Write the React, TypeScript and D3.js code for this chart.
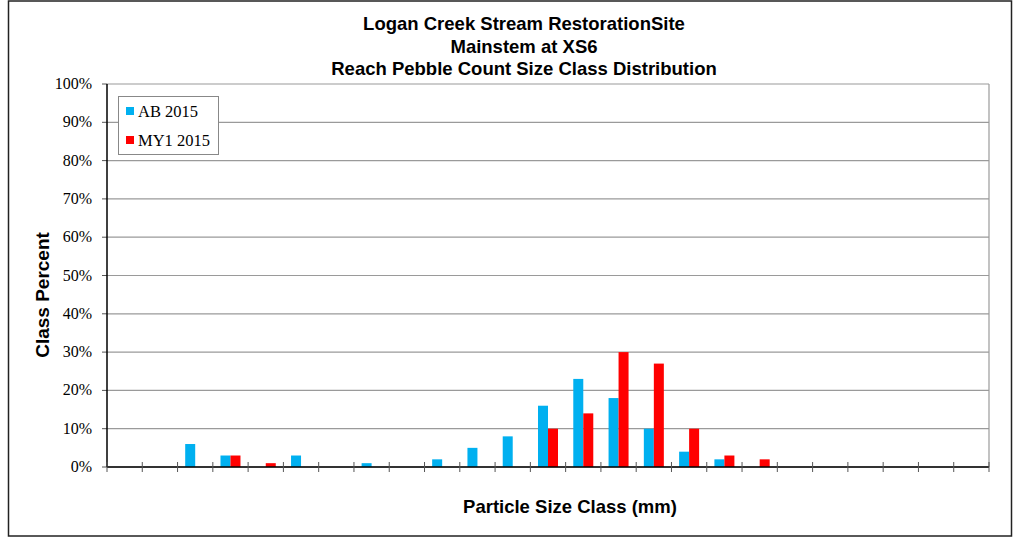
import React from "react";
import * as d3 from "d3";

const categories: string[] = Array.from({ length: 25 }, (_, i) => `C${i + 1}`);
const ab2015: (number | null)[] = [0, 0, 6, 3, 0, 3, 0, 1, 0, 2, 5, 8, 16, 23, 18, 10, 4, 2, 0, 0, 0, 0, 0, 0, 0];
const my12015: (number | null)[] = [0, 0, 0, 3, 1, 0, 0, 0, 0, 0, 0, 0, 10, 14, 30, 27, 10, 3, 2, 0, 0, 0, 0, 0, 0];
const yTicks: number[] = [0, 10, 20, 30, 40, 50, 60, 70, 80, 90, 100];
const seriesNames = ["AB 2015", "MY1 2015"];
const seriesColors = ["#00B0F0", "#FF0000"];
const titleLines = ["Logan Creek Stream RestorationSite", "Mainstem at XS6", "Reach Pebble Count Size Class Distribution"];

export default function App() {
  const W = 1014, H = 540;
  const left = 107, right = 989, top = 84, bottom = 467;
  const x = d3.scaleBand<string>().domain(categories).range([left, right]).padding(0);
  const y = d3.scaleLinear().domain([0, 100]).range([bottom, top]);
  const bw = 10;
  const series = [ab2015, my12015];
  const arial = "'Liberation Sans', Arial, sans-serif";
  const serif = "'Liberation Serif', 'Times New Roman', serif";
  return (
    <svg width={W} height={H} style={{ position: "absolute", left: 0, top: 0 }}>
      <rect x={0} y={0} width={W} height={H} fill="#fff" />
      <rect x={8.5} y={1} width={1003} height={535} fill="none" stroke="#222" strokeWidth={1.5} />
      {titleLines.map((t, i) => (
        <text key={i} x={524} y={30 + i * 22.5} textAnchor="middle" fontFamily={arial} fontWeight="bold" fontSize={18.5} fill="#000">
          {t}
        </text>
      ))}
      {/* gridlines */}
      {yTicks.map((t) => (
        <line key={t} x1={left} x2={right} y1={y(t)} y2={y(t)} stroke="#9a9a9a" strokeWidth={1.2} />
      ))}
      <line x1={right} x2={right} y1={top} y2={bottom} stroke="#9a9a9a" strokeWidth={1.2} />
      {/* y ticks and labels */}
      {yTicks.map((t) => (
        <g key={"yt" + t}>
          <line x1={left - 5} x2={left} y1={y(t)} y2={y(t)} stroke="#555" />
          <text x={92} y={y(t) + 5} textAnchor="end" fontFamily={serif} fontSize={16} fill="#000">
            {t}%
          </text>
        </g>
      ))}
      {/* bars */}
      {series.map((s, si) =>
        s.map((v, i) =>
          v && v > 0 ? (
            <rect
              key={si + "-" + i}
              x={(x(categories[i]) as number) + x.bandwidth() / 2 - bw + si * bw}
              y={y(v)}
              width={bw}
              height={bottom - y(v)}
              fill={seriesColors[si]}
            />
          ) : null
        )
      )}
      {/* axes */}
      <line x1={left} x2={left} y1={top} y2={bottom} stroke="#000" strokeWidth={1.5} />
      <line x1={left} x2={right} y1={bottom} y2={bottom} stroke="#000" strokeWidth={1.5} />
      {categories.map((c, i) => (
        <line key={"xt" + i} x1={(x(c) as number)} x2={(x(c) as number)} y1={bottom - 5} y2={bottom + 5} stroke="#555" />
      ))}
      <line x1={right} x2={right} y1={bottom - 5} y2={bottom + 5} stroke="#555" />
      {/* axis titles */}
      <text x={570} y={513} textAnchor="middle" fontFamily={arial} fontWeight="bold" fontSize={18.5} fill="#000">
        Particle Size Class (mm)
      </text>
      <text transform="translate(49,295) rotate(-90)" textAnchor="middle" fontFamily={arial} fontWeight="bold" fontSize={19} fill="#000">
        Class Percent
      </text>
      {/* legend */}
      <rect x={118.5} y={96.5} width={100} height={58} fill="#fff" stroke="#888" />
      {seriesNames.map((n, i) => (
        <g key={n}>
          <rect x={126} y={107 + i * 29} width={8} height={8} fill={seriesColors[i]} />
          <text x={138} y={117 + i * 29} fontFamily={serif} fontSize={16.5} fill="#000">
            {n}
          </text>
        </g>
      ))}
    </svg>
  );
}
